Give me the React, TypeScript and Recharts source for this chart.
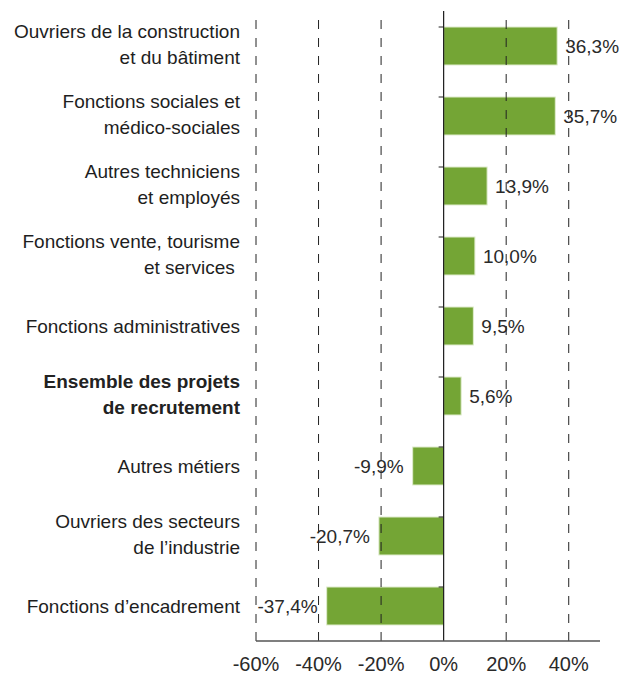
import React from "react";
import {
  BarChart,
  Bar,
  XAxis,
  YAxis,
  ReferenceLine,
  LabelList,
} from "recharts";

const categories: string[] = [
  "Ouvriers de la construction\net du bâtiment",
  "Fonctions sociales et\nmédico-sociales",
  "Autres techniciens\net employés",
  "Fonctions vente, tourisme\net services\u00a0",
  "Fonctions administratives",
  "Ensemble des projets\nde recrutement",
  "Autres métiers",
  "Ouvriers des secteurs\nde l’industrie",
  "Fonctions d’encadrement",
];

const values: number[] = [36.3, 35.7, 13.9, 10.0, 9.5, 5.6, -9.9, -20.7, -37.4];

const boldCategory = "Ensemble des projets\nde recrutement";

const xTicks: number[] = [-60, -40, -20, 0, 20, 40];
const xDomain: [number, number] = [-60, 50];

const data = categories.map((name, i) => ({ name, value: values[i] }));

const FONT = "'Liberation Sans', Arial, Helvetica, sans-serif";
const GREEN = "#74a535";

const fmtPct = (v: number) => `${v.toFixed(1).replace(".", ",")}%`;
const fmtTick = (v: number) => `${v}%`;

const CategoryTick = (props: any) => {
  const { x, y, payload } = props;
  const label: string = payload.value;
  const lines = label.split("\n");
  const bold = label === boldCategory;
  const spacing = 26;
  const startOffset = lines.length === 1 ? 7 : -15 + 7;
  return (
    <text
      x={x}
      y={y}
      textAnchor="end"
      fontFamily={FONT}
      fontSize={19}
      fontWeight={bold ? "bold" : "normal"}
      fill={bold ? "#222" : "#1e1e1e"}
    >
      {lines.map((ln, i) => (
        <tspan key={i} x={x} y={y + startOffset + i * spacing}>
          {ln}
        </tspan>
      ))}
    </text>
  );
};

const BarShape = (props: any) => {
  const { x, y, width, height, payload, background } = props;
  const left = Math.min(x, x + width);
  const w = Math.abs(width);
  const top = Math.min(y, y + height);
  const h = Math.abs(height);
  const v = payload ? payload.value : 0;
  const zeroX = v >= 0 ? left : left + w;
  const bandTop =
    background && typeof background.y === "number" ? background.y : top + h / 2 - 35;
  return (
    <g>
      <rect x={left} y={top} width={w} height={h} fill={GREEN} stroke="#dfeccd" strokeWidth={1} />
      <line x1={zeroX - 5} x2={zeroX} y1={bandTop} y2={bandTop} stroke="#222" strokeWidth={1} />
    </g>
  );
};

const ValueLabel = (props: any) => {
  const { x, y, width, height, value } = props;
  const left = Math.min(x, x + width);
  const right = Math.max(x, x + width);
  const cy = Math.min(y, y + height) + Math.abs(height) / 2;
  const neg = value < 0;
  return (
    <text
      x={neg ? left - 9 : right + 8}
      y={cy}
      dy={7}
      textAnchor={neg ? "end" : "start"}
      fontFamily={FONT}
      fontSize={19}
      fill="#2a2a2a"
    >
      {fmtPct(value)}
    </text>
  );
};

export default function App() {
  return (
    <div style={{ position: "absolute", left: 0, top: 0, background: "#fff" }}>
      <BarChart
        width={628}
        height={680}
        data={data}
        layout="vertical"
        margin={{ top: 11, right: 28, bottom: 9, left: 0 }}
        barSize={38}
      >
        {xTicks
          .filter((t) => t !== 0)
          .map((t) => (
            <ReferenceLine
              key={t}
              x={t}
              stroke="#222"
              strokeWidth={1}
              strokeDasharray="9 9"
            />
          ))}
        <XAxis
          type="number"
          domain={xDomain}
          ticks={xTicks}
          tickFormatter={fmtTick}
          allowDataOverflow
          height={30}
          axisLine={true}
          stroke="#555"
          strokeWidth={1.5}
          tickLine={false}
          tickSize={0}
          tickMargin={16}
          tick={{ fontFamily: FONT, fontSize: 20, fill: "#2a2a2a" }}
        />
        <YAxis
          type="category"
          dataKey="name"
          width={256}
          axisLine={false}
          tickLine={false}
          tickSize={0}
          tickMargin={16}
          interval={0}
          tick={<CategoryTick />}
        />
        <ReferenceLine x={0} stroke="#1a1a1a" strokeWidth={1.2} />
        <Bar dataKey="value" isAnimationActive={false} shape={<BarShape />}>
          <LabelList dataKey="value" content={<ValueLabel />} />
        </Bar>
      </BarChart>
    </div>
  );
}
